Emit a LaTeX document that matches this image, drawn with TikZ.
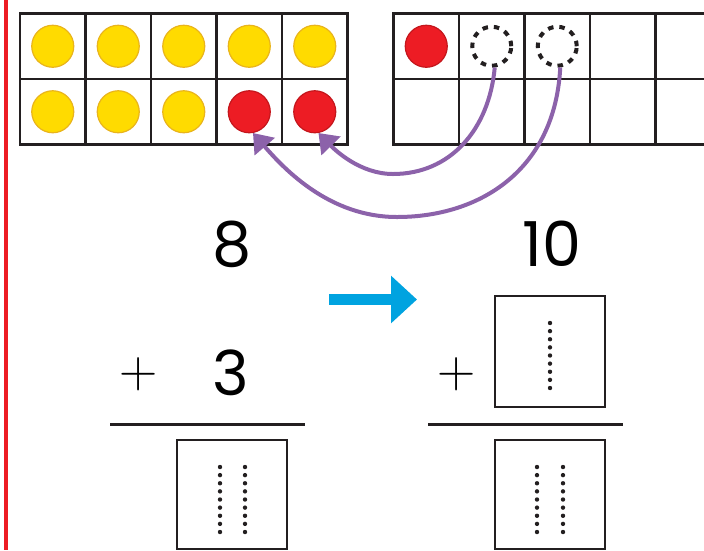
\documentclass[tikz,border=0pt]{standalone}
\usepackage{fontspec}
\newfontfamily\digitfont{Poppins}
\usetikzlibrary{arrows.meta}
\definecolor{gridc}{HTML}{231F20}
\definecolor{yfill}{HTML}{FFDB00}
\definecolor{yrim}{HTML}{E9B41C}
\definecolor{rfill}{HTML}{ED1C24}
\definecolor{rrim}{HTML}{C4161C}
\definecolor{purp}{HTML}{8C62AA}
\definecolor{cyanb}{HTML}{00A3E0}
\definecolor{redline}{HTML}{ED1C24}
\begin{document}
\begin{tikzpicture}[x=1pt,y=-1pt,
  gridline/.style={draw=gridc, line width=2.8pt, line cap=rect},
  ycounter/.style={circle, minimum size=42pt, inner sep=0pt, fill=yfill, draw=yrim, line width=1.2pt},
  rcounter/.style={circle, minimum size=42pt, inner sep=0pt, fill=rfill, draw=rrim, line width=1.2pt},
  ghost/.style={circle, minimum size=39pt, inner sep=0pt, draw=gridc, line width=4pt, dash pattern=on 5.5pt off 6pt},
  mover/.style={draw=purp, line width=4pt, -{Triangle[length=18pt,width=26pt]}},
  bluearrow/.style={draw=cyanb, line width=11pt, -{Triangle[length=26pt,width=46pt]}},
  digit/.style={font=\digitfont\fontsize{62}{70}\selectfont, inner sep=0pt, anchor=base},
  plus/.style={font=\fontsize{53}{60}\selectfont, inner sep=0pt},
  answerbox/.style={draw=gridc, line width=2.6pt, minimum width=110pt, inner sep=0pt},
  rule/.style={draw=gridc, line width=3pt},
  guide/.style={fill=gridc}
]
\useasboundingbox (0,0) rectangle (704,550);
\fill[white] (0,0) rectangle (704,550);
\clip (0,0) rectangle (704,550);
% red margin line
\fill[redline] (3.5,0) rectangle (8,550);
% left ten frame
\foreach \i in {0,...,5} \draw[gridline] (20+65.5*\i,13.5) -- (20+65.5*\i,144.5);
\foreach \j in {0,1,2} \draw[gridline] (20,13.5+65.5*\j) -- (347.5,13.5+65.5*\j);
% right ten frame
\foreach \i in {0,...,5} \draw[gridline] (393.5+65.5*\i,13.5) -- (393.5+65.5*\i,144.5);
\foreach \j in {0,1,2} \draw[gridline] (393.5,13.5+65.5*\j) -- (721,13.5+65.5*\j);
% counters
\foreach [count=\k] \x in {52.75,118.25,183.75,249.25,314.75}
  \node[ycounter] (t\k) at (\x,46.25) {};
\node[ycounter] (b1) at (52.75,111.75) {};
\node[ycounter] (b2) at (118.25,111.75) {};
\node[ycounter] (b3) at (183.75,111.75) {};
\node[rcounter] (b4) at (249.25,111.75) {};
\node[rcounter] (b5) at (314.75,111.75) {};
\node[rcounter] (r1) at (426.25,46.25) {};
\node[ghost] (g1) at (491.75,46.25) {};
\node[ghost] (g2) at (557.25,46.25) {};
% moving arrows
\draw[mover] (g1.-82) .. controls (489,130) and (450,174) .. (393,174)
  .. controls (360,174) and (335,150) .. (b5.-80);
\draw[mover] (g2.-82) .. controls (555,170) and (480,217) .. (397,217)
  .. controls (330,217) and (285,170) .. (b4.-80);
% blue arrow
\coordinate (bs) at (329,299.5);
\coordinate (be) at (417,299.5);
\draw[bluearrow] (bs) -- (be);
% numbers
\node[digit] (eight) at (232,266) {8};
\node[digit] (three) at (231,395) {3};
\node[digit] (ten) at (552,266) {10};
\node[plus] (plusL) at (139,374) {+};
\node[plus] (plusR) at (457,374) {+};
% rules
\coordinate (ruleLa) at (110,424); \coordinate (ruleLb) at (305,424);
\coordinate (ruleRa) at (428,424); \coordinate (ruleRb) at (623,424);
\draw[rule] (ruleLa) -- (ruleLb);
\draw[rule] (ruleRa) -- (ruleRb);
% answer boxes
\node[answerbox, minimum height=111pt] (boxR) at (550,351.5) {};
\node[answerbox, minimum height=109pt] (sumL) at (232,494.5) {};
\node[answerbox, minimum height=109pt] (sumR) at (550,494.5) {};
% tracing dots
\foreach \k in {0,...,8} {
  \fill[guide] (550,323+8.125*\k) circle (2.2);
  \fill[guide] (220,467+8.125*\k) circle (2.2);
  \fill[guide] (245,467+8.125*\k) circle (2.2);
  \fill[guide] (537,467+8.125*\k) circle (2.2);
  \fill[guide] (563,467+8.125*\k) circle (2.2);
}
\end{tikzpicture}
\end{document}
